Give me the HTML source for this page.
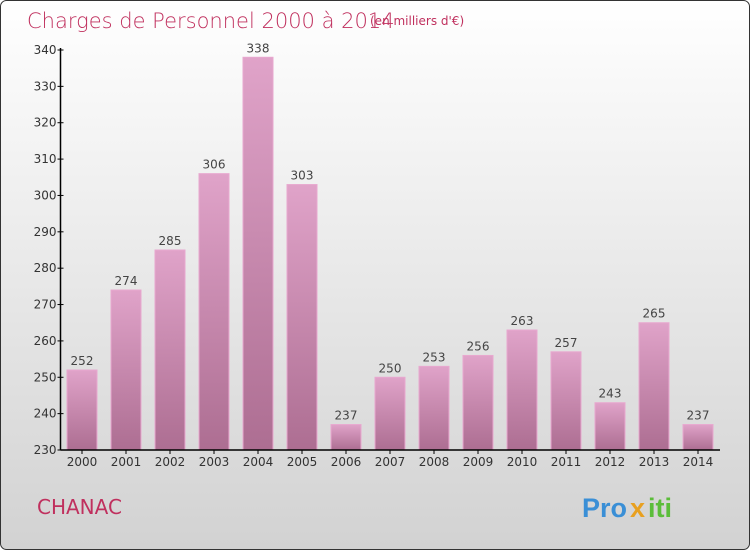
<!DOCTYPE html>
<html><head><meta charset="utf-8"><style>
body{margin:0;width:750px;height:550px;overflow:hidden;font-family:"DejaVu Sans","Liberation Sans",sans-serif}
</style></head><body>
<svg width="750" height="550" xmlns="http://www.w3.org/2000/svg">
<defs>
<linearGradient id="bg" x1="0" y1="0" x2="0" y2="1"><stop offset="0" stop-color="#ffffff"/><stop offset="1" stop-color="#d2d2d2"/></linearGradient>
<linearGradient id="bar" x1="0" y1="0" x2="0" y2="1"><stop offset="0" stop-color="#e0a3c9"/><stop offset="1" stop-color="#ad6e92"/></linearGradient>
</defs>
<rect x="0.5" y="0.5" width="749" height="549" rx="6" fill="url(#bg)" stroke="#333" stroke-width="1"/>
<text x="27" y="28" font-size="21" fill="#c0305e" font-family="DejaVu Sans, sans-serif" font-weight="200">Charges de Personnel 2000 à 2014</text>
<text x="370" y="25" font-size="12" fill="#c0305e">(en milliers d'€)</text>
<g id="plot"></g>
<text x="37" y="514" font-size="20" fill="#c0305e">CHANAC</text>
<g font-size="27" font-weight="bold" font-family="Liberation Sans, sans-serif">
<text x="582" y="517" fill="#3a8fd6">Pro</text><text x="630" y="517" fill="#e8a020">x</text><text x="648" y="517" fill="#5bbd3a">iti</text>
</g>
</svg>
<script>
const categories=["2000","2001","2002","2003","2004","2005","2006","2007","2008","2009","2010","2011","2012","2013","2014"];
const values=[252,274,285,306,338,303,237,250,253,256,263,257,243,265,237];
const yTicks=[230,240,250,260,270,280,290,300,310,320,330,340];
const NS="http://www.w3.org/2000/svg";
const g=document.getElementById('plot');
const yMin=230,yMax=340,y0=450,y1=50,axX=60.5,x0=82,step=44,bw=30;
const ys=v=>y0-(v-yMin)*(y0-y1)/(yMax-yMin);
const xs=i=>x0+i*step;
function mk(t,a,txt){const e=document.createElementNS(NS,t);for(const k in a)e.setAttribute(k,a[k]);if(txt!==undefined)e.textContent=txt;g.appendChild(e);return e;}
values.forEach((v,i)=>{
 const r=mk('rect',{x:xs(i)-bw/2,y:ys(v),width:bw,height:y0-ys(v),fill:'url(#bar)',stroke:'#e8a8cf','stroke-width':1});
 
 
 const t=mk('text',{x:xs(i),y:ys(v)-5,'text-anchor':'middle','font-size':12,fill:'#444'},v);
 
 
 const c=mk('text',{x:xs(i),y:466,'text-anchor':'middle','font-size':12,fill:'#333'},categories[i]);
 
 
 const tk=mk('line',{x1:xs(i),x2:xs(i),y1:y0,y2:y0+4,stroke:'#000'});
 
 
});
yTicks.forEach(v=>{
 const l=mk('line',{x1:axX-3,x2:axX+3,y1:ys(v),y2:ys(v),stroke:'#000'});
 
 
 const t=mk('text',{x:axX-4,y:ys(v)+4,'text-anchor':'end','font-size':12,fill:'#333'},v);
 
 
});
const ya=mk('line',{x1:axX,x2:axX,y1:y1-2,y2:y0,stroke:'#000','stroke-width':1.5});


const xa=mk('line',{x1:axX,x2:720,y1:y0,y2:y0,stroke:'#000','stroke-width':1.5});


</script>
</body></html>
